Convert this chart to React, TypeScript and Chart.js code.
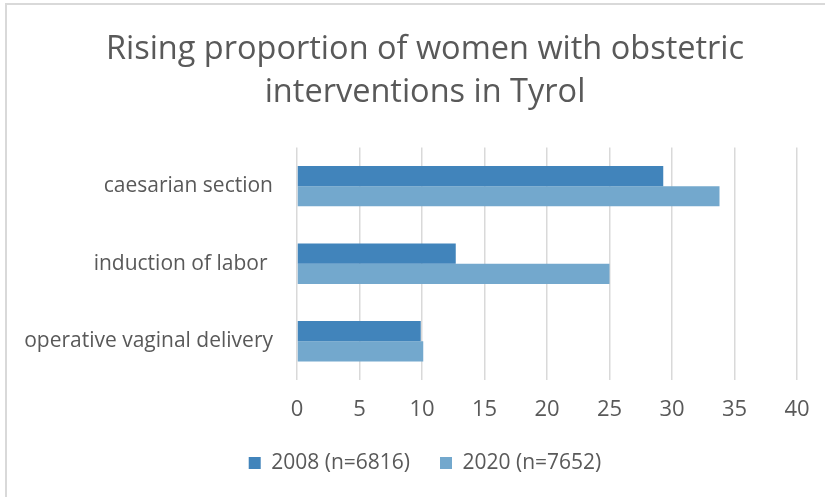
import React, { useEffect, useRef } from "react";
import { Chart, registerables } from "chart.js";

Chart.register(...registerables);

const titleLines = ["Rising proportion of women with obstetric", "interventions in Tyrol"];
const categories = ["caesarian section", "induction of labor ", "operative vaginal delivery"];
const series2008Label = "2008 (n=6816)";
const series2020Label = "2020 (n=7652)";
const values2008 = [29.3, 12.7, 9.9];
const values2020 = [33.8, 25.0, 10.1];
const xMin = 0;
const xMax = 40;
const xStep = 5;

const TEXT = "#595959";
const FONT = "'Open Sans', sans-serif";

const CANVAS_W = 842;
const CANVAS_H = 497;

export default function App() {
  const ref = useRef<HTMLCanvasElement | null>(null);

  useEffect(() => {
    if (!ref.current) return;
    const chart = new Chart(ref.current, {
      type: "bar",
      data: {
        labels: categories,
        datasets: [
          {
            label: series2008Label,
            data: values2008,
            backgroundColor: "#4184bb",
            borderColor: "#4184bb",
            borderWidth: 0,
            categoryPercentage: 0.52,
            barPercentage: 1.0,
          },
          {
            label: series2020Label,
            data: values2020,
            backgroundColor: "#73a8cd",
            borderColor: "#73a8cd",
            borderWidth: 0,
            categoryPercentage: 0.52,
            barPercentage: 1.0,
          },
        ],
      },
      options: {
        indexAxis: "y",
        animation: false,
        responsive: false,
        maintainAspectRatio: false,
        layout: { padding: { left: 8, right: 0, top: 0, bottom: 13.5 } },
        plugins: {
          title: {
            display: true,
            text: titleLines,
            color: TEXT,
            font: { family: FONT, size: 32.5, weight: "normal", lineHeight: 1.33 },
            padding: { top: 28, bottom: 33 },
          },
          legend: {
            display: true,
            position: "bottom",
            labels: {
              color: TEXT,
              font: { family: FONT, size: 21 },
              boxWidth: 12,
              boxHeight: 12,
              padding: 30,
            },
          },
          tooltip: { enabled: false },
        },
        scales: {
          x: {
            min: xMin,
            max: xMax,
            ticks: {
              stepSize: xStep,
              color: TEXT,
              font: { family: FONT, size: 22 },
              padding: 17,
            },
            grid: { color: "#d9d9d9", lineWidth: 1.5, drawTicks: false },
            border: { display: false },
            afterFit: (scale: any) => {
              scale.height = 42.5;
            },
          },
          y: {
            ticks: {
              color: TEXT,
              font: { family: FONT, size: 21 },
              padding: 24,
            },
            grid: { display: false, drawTicks: false },
            border: { display: false },
            afterFit: (scale: any) => {
              scale.width = 289;
            },
          },
          yRight: {
            type: "linear",
            position: "right",
            display: true,
            ticks: { display: false },
            grid: { display: false, drawTicks: false },
            border: { display: false },
            afterFit: (scale: any) => {
              scale.width = 45;
            },
          },
        },
      },
    });
    return () => chart.destroy();
  }, []);

  return (
    <div
      style={{
        position: "absolute",
        left: 0,
        top: 0,
        width: 825,
        height: 497,
        overflow: "hidden",
        background: "#ffffff",
      }}
    >
      <div
        style={{
          position: "absolute",
          left: 5,
          top: 3,
          width: 1000,
          height: 1000,
          borderLeft: "2px solid #d9d9d9",
          borderTop: "2px solid #d9d9d9",
          boxSizing: "border-box",
        }}
      />
      <canvas
        ref={ref}
        width={CANVAS_W}
        height={CANVAS_H}
        style={{ position: "absolute", left: 0, top: 0 }}
      />
    </div>
  );
}
